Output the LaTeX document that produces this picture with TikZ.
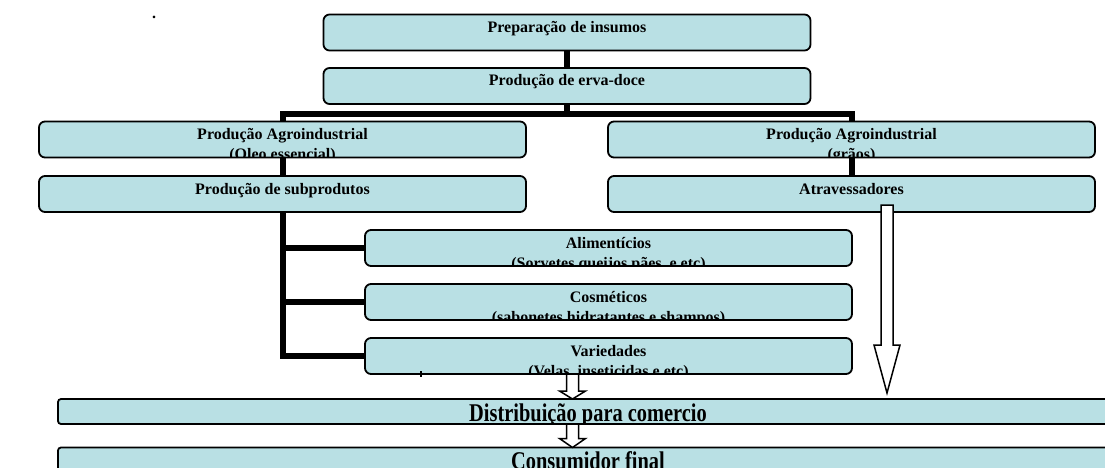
\documentclass[tikz,border=0pt]{standalone}
\usepackage{fontspec}
\setmainfont{Liberation Serif}
\usepackage{tikz}
\usetikzlibrary{calc}
\definecolor{caixa}{RGB}{185,224,228}

\begin{document}
\begin{tikzpicture}[x=1pt,y=-1pt,
texto/.style={anchor=base,inner sep=0pt,minimum width=0pt,minimum height=0pt,font=\bfseries\fontsize{16}{19}\selectfont},
etapa/.style 2 args={draw,line width=1.8pt,rounded corners=6pt,fill=caixa,minimum width=487pt,minimum height=36pt,inner sep=0pt,outer sep=0pt,
  path picture={\node[texto] at ([yshift=-18pt]path picture bounding box.north) {#1};
  \node[texto] at ([yshift=-38pt]path picture bounding box.north) {#2};}},
final/.style={draw,line width=1.8pt,rounded corners=3pt,fill=caixa,minimum width=1060pt,minimum height=25pt,inner sep=0pt,outer sep=0pt,
  path picture={\node[texto,font=\bfseries\fontsize{25.5}{28}\selectfont] at ([yshift=-22pt]path picture bounding box.north) {\scalebox{0.8}[1]{#1}};}},
liga/.style={line width=6pt},
bloco/.style={draw,fill=white,line width=1.5pt,line join=miter}]
\useasboundingbox (0,0) rectangle (1105,468);
\node[texto] (ponto) at (154,19) {.};
% etapas
\node[etapa={Preparação de insumos}{}] (prep) at (567,32.5) {};
\node[etapa={Produção de erva-doce}{}] (erva) at (567,86) {};
\node[etapa={Produção Agroindustrial}{(Oleo essencial)}] (oleo) at (282.5,139.5) {};
\node[etapa={Produção Agroindustrial}{(grãos)}] (graos) at (851.5,139.5) {};
\node[etapa={Produção de subprodutos}{}] (subp) at (282.5,194) {};
\node[etapa={Atravessadores}{}] (atrav) at (851.5,194) {};
\node[etapa={Alimentícios}{(Sorvetes.queijos.pães, e etc)}] (alim) at (608.5,248) {};
\node[etapa={Cosméticos}{(sabonetes.hidratantes e shampos)}] (cosm) at (608.5,302) {};
\node[etapa={Variedades}{(Velas, inseticidas e etc)}] (vari) at (608.5,356) {};
\node[final={Distribuição para comercio}] (dist) at (588,411.5) {};
\node[final={Consumidor final}] (cons) at (588,460) {};
% ligacoes
\coordinate (barra) at (567,114);
\draw[liga](prep.south)--(erva.north);
\draw[liga](erva.south)--(barra);
\draw[liga](oleo.north)|-(barra)-|(graos.north);
\draw[liga](oleo.south)--(subp.north);
\draw[liga](graos.south)--(atrav.north);
\draw[liga](subp.south)|-(vari.west);
\foreach \n in {alim,cosm}{\draw[liga](subp.south|-\n.west)--(\n.west);}
% setas
\coordinate (s1a) at ($(vari.south)+(-36,0)$);
\coordinate (s1b) at (s1a|-dist.north);
\coordinate (s2a) at (s1a|-dist.south);
\coordinate (s2b) at (s1a|-cons.north);
\coordinate (s3a) at ($(atrav.south)+(35.5,-7)$);
\coordinate (s3b) at ($(s3a|-dist.north)+(0,-6)$);
\foreach \a/\b/\c in {s1a/s1b/8,s2a/s2b/9,s3a/s3b/48}{
\draw[bloco] let \p1=(\a),\p2=(\b) in ({\x1-6pt},\y1)--({\x1-6pt},{\y2+\c pt})--({\x1-13pt},{\y2+\c pt})--(\x1,\y2)--({\x1+13pt},{\y2+\c pt})--({\x1+6pt},{\y2+\c pt})--({\x1+6pt},\y1)--cycle;}
\draw[line width=1.5pt](421,371)--(421,377);
\end{tikzpicture}
\end{document}
